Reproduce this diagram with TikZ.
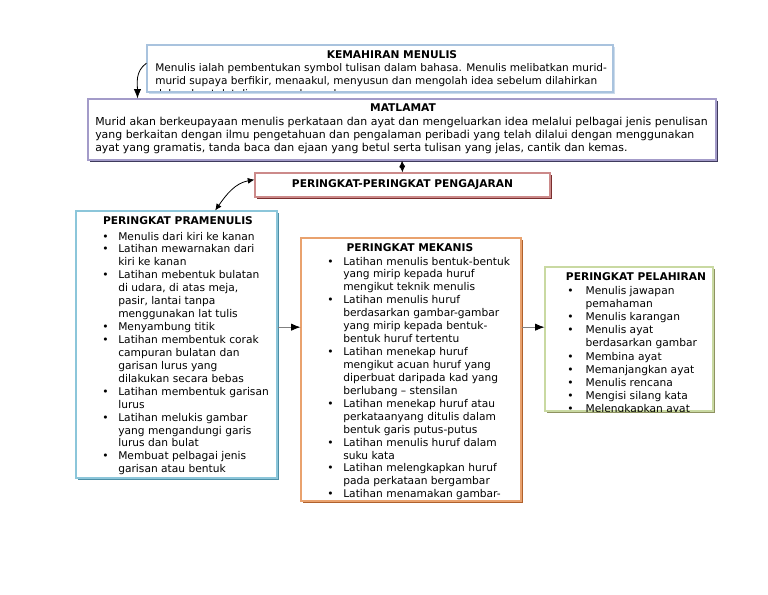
\documentclass[tikz,border=0pt]{standalone}
\usepackage{fontspec}
\setmainfont{DejaVu Sans}
\usetikzlibrary{positioning,arrows.meta,shadows}

\definecolor{birumuda}{HTML}{A9C3DE}
\definecolor{ungu}{HTML}{A39BC9}
\definecolor{unggelap}{HTML}{3E3A5C}
\definecolor{merahjambu}{HTML}{CC8A8A}
\definecolor{merahgelap}{HTML}{7A2E2E}
\definecolor{biru}{HTML}{8CC6DA}
\definecolor{birugelap}{HTML}{4E8FA6}
\definecolor{jingga}{HTML}{E9A26E}
\definecolor{jinggagelap}{HTML}{B0612C}
\definecolor{hijau}{HTML}{C9D9A2}
\definecolor{hijaugelap}{HTML}{8E9260}

\begin{document}
\begin{tikzpicture}[x=0.75pt, y=0.75pt,
  kotak/.style={draw=#1, line width=0.8pt, fill=white, inner sep=0pt},
  bayang/.style={drop shadow={shadow xshift=1.4pt, shadow yshift=-1.4pt,
                 fill=#1, opacity=1}},
  judul/.style={font=\fontsize{8}{9.7}\selectfont\bfseries, inner sep=0pt, anchor=base},
  isi/.style={font=\fontsize{7.9}{10.1}\selectfont, inner sep=0pt, anchor=base west},
  senarai/.style={font=\fontsize{8}{9.7}\selectfont, inner sep=0pt, anchor=base west},
  arr/.style={-{Latex[length=7pt,width=5.5pt,color=black]}, line width=0.6pt},
  dua/.style={{Latex[length=5pt,width=4.5pt]}-{Latex[length=5pt,width=4.5pt]}, line width=0.6pt}
]
\useasboundingbox (0,0) rectangle (768,-594);

%% ── kotak atas ──────────────────────────────────
\node[kotak=birumuda, bayang=birumuda!60,
      minimum width=349.5pt, minimum height=35.25pt] (kemahiran) at (380,-68.5) {};
\node[kotak=ungu, bayang=unggelap,
      minimum width=471pt, minimum height=45.75pt] (matlamat) at (402,-129.5) {};
\node[kotak=merahjambu, bayang=merahgelap,
      minimum width=221.25pt, minimum height=18pt,
      font=\fontsize{8}{9.7}\selectfont\bfseries] (pengajaran) at (402.5,-185)
      {PERINGKAT-PERINGKAT PENGAJARAN};

%% ── kotak peringkat ─────────────────────────────
\node[kotak=biru, bayang=birugelap,
      minimum width=150.75pt, minimum height=200.25pt] (pramenulis) at (176.5,-344.5) {};
\node[kotak=jingga, bayang=jinggagelap,
      minimum width=165pt, minimum height=197.25pt] (mekanis) at (411,-369.5) {};
\node[kotak=hijau, bayang=hijaugelap,
      minimum width=126pt, minimum height=108pt] (pelahiran) at (629,-339) {};

%% ── teks (dipotong oleh kotak) ──────────────────
\begin{scope}
  \clip ([yshift=1.6pt]kemahiran.south west) rectangle (kemahiran.north east);
  \node[judul] (kemahiran-j) at (392,-58) {KEMAHIRAN MENULIS};
  \node[isi] (kemahiran-t) at (155,-71)
    {\begin{tabular}[t]{@{}l@{}}
     Menulis ialah pembentukan symbol tulisan dalam bahasa. Menulis melibatkan murid-\\
     murid supaya berfikir, menaakul, menyusun dan mengolah idea sebelum dilahirkan\\
     dalam bentuk tulisan yang bermakna.
     \end{tabular}};
\end{scope}

\node[judul] (matlamat-j) at (403,-111) {MATLAMAT};
\node[isi, font=\fontsize{8.2}{10.1}\selectfont] (matlamat-t) at (95,-125)
  {\begin{tabular}[t]{@{}l@{}}
   Murid akan berkeupayaan menulis perkataan dan ayat dan mengeluarkan idea melalui pelbagai jenis penulisan\\
   yang berkaitan dengan ilmu pengetahuan dan pengalaman peribadi yang telah dilalui dengan menggunakan\\
   ayat yang gramatis, tanda baca dan ejaan yang betul serta tulisan yang jelas, cantik dan kemas.
   \end{tabular}};

\node[judul] (pramenulis-j) at (178,-224) {PERINGKAT PRAMENULIS};
\node[senarai] (pramenulis-t) at (102,-240)
  {\begin{tabular}[t]{@{}l@{\hspace{7.3pt}}l@{}}
   \textbullet & Menulis dari kiri ke kanan\\
   \textbullet & Latihan mewarnakan dari\\
               & kiri ke kanan\\
   \textbullet & Latihan mebentuk bulatan\\
               & di udara, di atas meja,\\
               & pasir, lantai tanpa\\
               & menggunakan lat tulis\\
   \textbullet & Menyambung titik\\
   \textbullet & Latihan membentuk corak\\
               & campuran bulatan dan\\
               & garisan lurus yang\\
               & dilakukan secara bebas\\
   \textbullet & Latihan membentuk garisan\\
               & lurus\\
   \textbullet & Latihan melukis gambar\\
               & yang mengandungi garis\\
               & lurus dan bulat\\
   \textbullet & Membuat pelbagai jenis\\
               & garisan atau bentuk
   \end{tabular}};

\begin{scope}
  \clip (mekanis.south west) rectangle (mekanis.north east);
  \node[judul] (mekanis-j) at (410,-251) {PERINGKAT MEKANIS};
  \node[senarai] (mekanis-t) at (327,-265)
    {\begin{tabular}[t]{@{}l@{\hspace{7.3pt}}l@{}}
     \textbullet & Latihan menulis bentuk-bentuk\\
                 & yang mirip kepada huruf\\
                 & mengikut teknik menulis\\
     \textbullet & Latihan menulis huruf\\
                 & berdasarkan gambar-gambar\\
                 & yang mirip kepada bentuk-\\
                 & bentuk huruf tertentu\\
     \textbullet & Latihan menekap huruf\\
                 & mengikut acuan huruf yang\\
                 & diperbuat daripada kad yang\\
                 & berlubang -- stensilan\\
     \textbullet & Latihan menekap huruf atau\\
                 & perkataanyang ditulis dalam\\
                 & bentuk garis putus-putus\\
     \textbullet & Latihan menulis huruf dalam\\
                 & suku kata\\
     \textbullet & Latihan melengkapkan huruf\\
                 & pada perkataan bergambar\\
     \textbullet & Latihan menamakan gambar-
     \end{tabular}};
\end{scope}

\begin{scope}
  \clip (pelahiran.south west) rectangle (pelahiran.north east);
  \node[judul] (pelahiran-j) at (636,-280) {PERINGKAT PELAHIRAN};
  \node[senarai, font=\fontsize{8}{9.9}\selectfont] (pelahiran-t) at (567,-294)
    {\begin{tabular}[t]{@{}l@{\hspace{9pt}}l@{}}
     \textbullet & Menulis jawapan\\
                 & pemahaman\\
     \textbullet & Menulis karangan\\
     \textbullet & Menulis ayat\\
                 & berdasarkan gambar\\
     \textbullet & Membina ayat\\
     \textbullet & Memanjangkan ayat\\
     \textbullet & Menulis rencana\\
     \textbullet & Mengisi silang kata\\
     \textbullet & Melengkapkan ayat
     \end{tabular}};
\end{scope}

%% ── penyambung ──────────────────────────────────
\draw[arr] ([yshift=4pt]kemahiran.west) to[out=215,in=90]
           ([xshift=37.5pt]matlamat.north west);
\draw[dua] (matlamat.south) -- (pengajaran.north);
\draw[dua] ([xshift=29pt]pramenulis.north) to[out=55,in=190]
           ([yshift=4pt]pengajaran.west);
\coordinate (lalu) at ([yshift=13pt]pramenulis.east);
\draw[arr, draw=gray] (lalu) -- (lalu -| mekanis.west);
\draw[arr, draw=gray] (lalu -| mekanis.east) -- (lalu -| pelahiran.west);

\end{tikzpicture}
\end{document}
